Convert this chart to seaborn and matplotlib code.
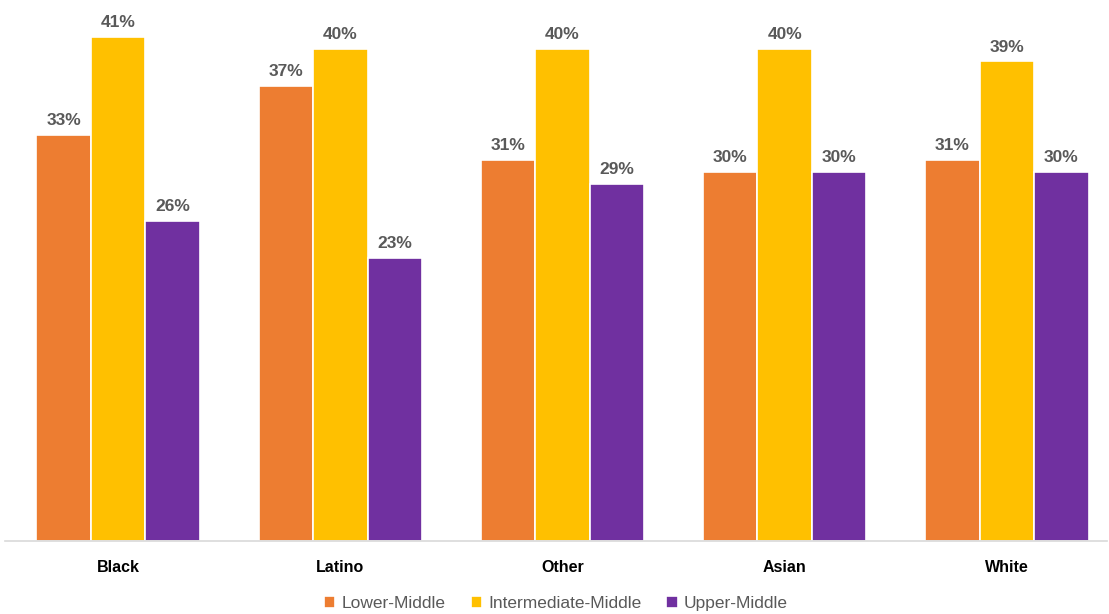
import matplotlib
matplotlib.use("Agg")
import matplotlib.pyplot as plt
import seaborn as sns
import pandas as pd

groups = ["Black", "Latino", "Other", "Asian", "White"]
series = ["Lower-Middle", "Intermediate-Middle", "Upper-Middle"]
lower_middle = [33, 37, 31, 30, 31]
intermediate_middle = [41, 40, 40, 40, 39]
upper_middle = [26, 23, 29, 30, 30]
colors = ["#ED7D31", "#FFC000", "#7030A0"]

rows = []
for s, vals in zip(series, [lower_middle, intermediate_middle, upper_middle]):
    for g, v in zip(groups, vals):
        rows.append({"group": g, "series": s, "value": v})
df = pd.DataFrame(rows)

sns.set_style("white")
plt.rcParams["font.family"] = ["Liberation Sans", "DejaVu Sans"]

fig = plt.figure(figsize=(11.09, 6.14), dpi=100)
ax = fig.add_axes([7 / 1109, 73 / 614, 1111 / 1109, 541 / 614])

sns.barplot(data=df, x="group", y="value", hue="series", order=groups,
            hue_order=series, palette=colors, width=0.735, ax=ax,
            edgecolor="white", linewidth=1.2, saturation=1)

for cont in ax.containers:
    ax.bar_label(cont, labels=[f"{int(v)}%" for v in cont.datavalues],
                 padding=5, color="#595959", fontsize=12.5, fontweight="bold")

ax.set_ylim(0, 44)
ax.set_xlim(-0.5, 4.5)
ax.set_xlabel("")
ax.set_ylabel("")
ax.set_yticks([])
for side in ["top", "right", "left"]:
    ax.spines[side].set_visible(False)
ax.spines["bottom"].set_color("#D9D9D9")
ax.spines["bottom"].set_linewidth(1.2)
ax.spines["bottom"].set_bounds(-0.51, 4.45)
ax.tick_params(axis="x", length=0, pad=14)
for t in ax.get_xticklabels():
    t.set_fontweight("bold")
    t.set_fontsize(11.5)
    t.set_color("black")

leg = ax.legend(loc="center", bbox_to_anchor=(0.494, -0.115), ncol=3, frameon=False,
                fontsize=12.5, handlelength=0.65, handleheight=0.75,
                handletextpad=0.35, columnspacing=1.45)
for t in leg.get_texts():
    t.set_color("#595959")

fig.savefig("out.png", dpi=100)
